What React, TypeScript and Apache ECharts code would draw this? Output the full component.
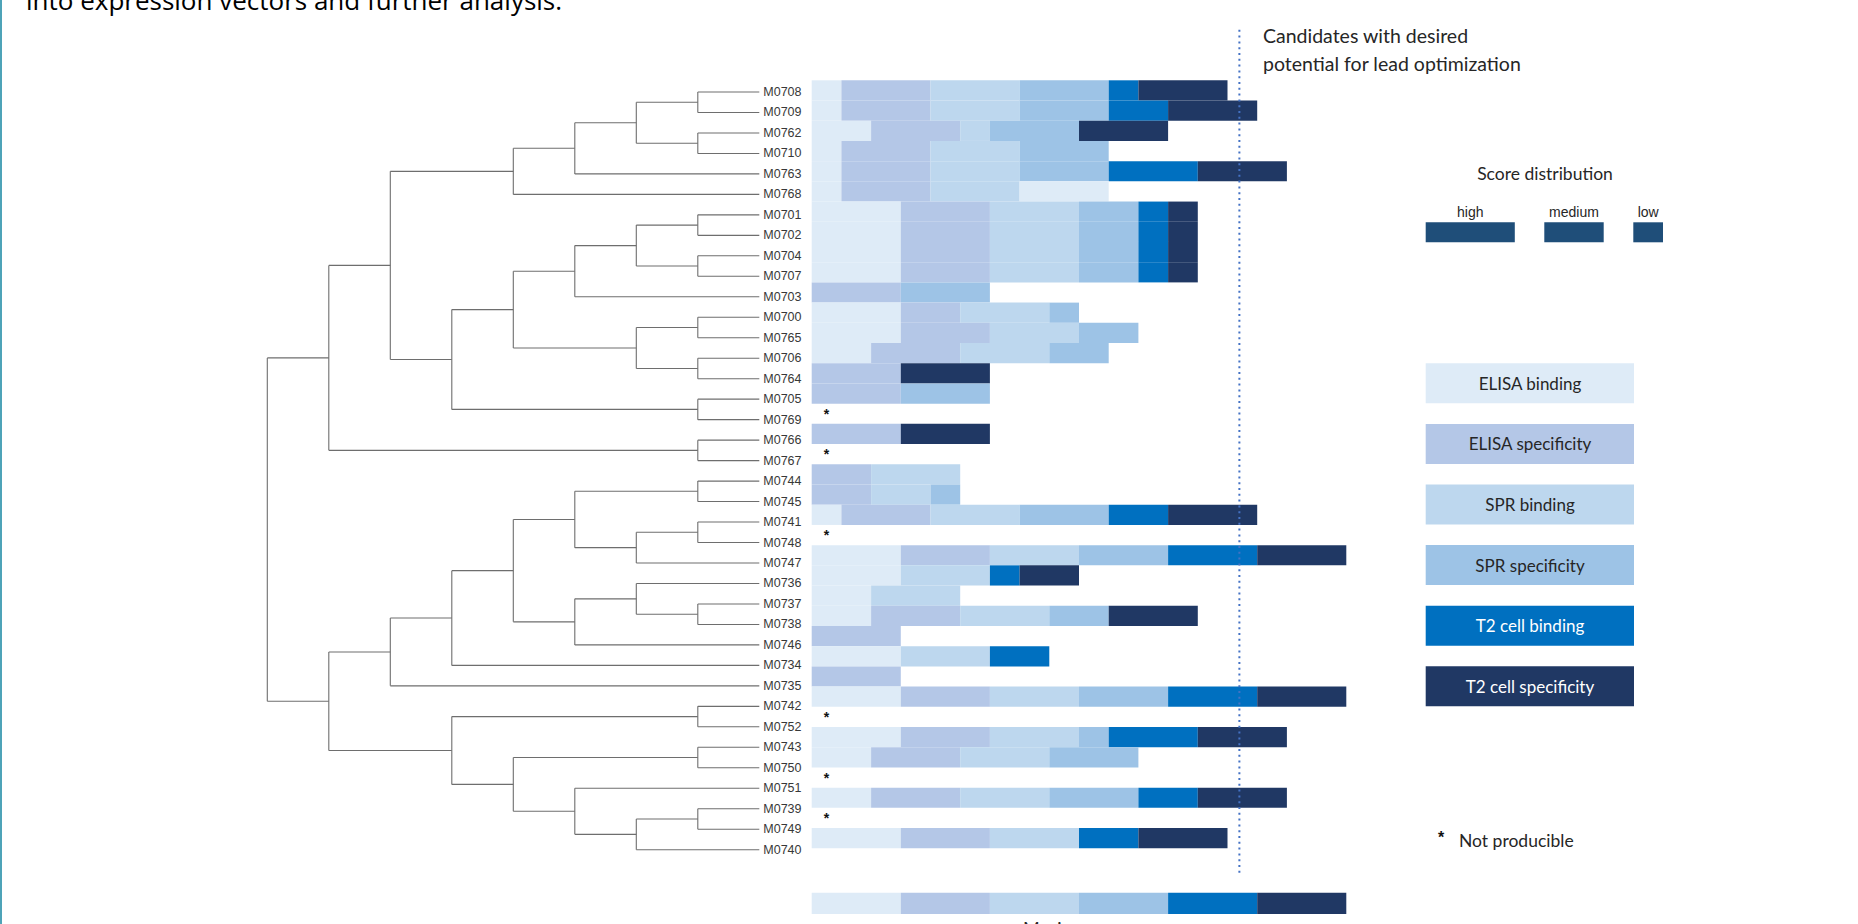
import { useEffect, useRef } from 'react';
import * as echarts from 'echarts';

// Clone names in dendrogram leaf order (top to bottom)
const clones = [
  'M0708', 'M0709', 'M0762', 'M0710', 'M0763', 'M0768', 'M0701', 'M0702', 'M0704', 'M0707',
  'M0703', 'M0700', 'M0765', 'M0706', 'M0764', 'M0705', 'M0769', 'M0766', 'M0767', 'M0744',
  'M0745', 'M0741', 'M0748', 'M0747', 'M0736', 'M0737', 'M0738', 'M0746', 'M0734', 'M0735',
  'M0742', 'M0752', 'M0743', 'M0750', 'M0751', 'M0739', 'M0749', 'M0740',
];

const assays = [
  'ELISA binding', 'ELISA specificity', 'SPR binding',
  'SPR specificity', 'T2 cell binding', 'T2 cell specificity',
];
const assayColors = ['#deebf7', '#b4c7e7', '#bdd7ee', '#9dc3e6', '#0070c0', '#203864'];
const assayTextColors = ['#262626', '#262626', '#262626', '#262626', '#ffffff', '#ffffff'];

// Score profile per bar row: [assay index, score 1..3]; null = not producible
const profiles: (number[][] | null)[] = [
  [[0, 1], [1, 3], [2, 3], [3, 3], [4, 1], [5, 3]],
  [[0, 1], [1, 3], [2, 3], [3, 3], [4, 2], [5, 3]],
  [[0, 2], [1, 3], [2, 1], [3, 3], [5, 3]],
  [[0, 1], [1, 3], [2, 3], [3, 3]],
  [[0, 1], [1, 3], [2, 3], [3, 3], [4, 3], [5, 3]],
  [[0, 1], [1, 3], [2, 3], [0, 3]],
  [[0, 3], [1, 3], [2, 3], [3, 2], [4, 1], [5, 1]],
  [[0, 3], [1, 3], [2, 3], [3, 2], [4, 1], [5, 1]],
  [[0, 3], [1, 3], [2, 3], [3, 2], [4, 1], [5, 1]],
  [[0, 3], [1, 3], [2, 3], [3, 2], [4, 1], [5, 1]],
  [[1, 3], [3, 3]],
  [[0, 3], [1, 2], [2, 3], [3, 1]],
  [[0, 3], [1, 3], [2, 3], [3, 2]],
  [[0, 2], [1, 3], [2, 3], [3, 2]],
  [[1, 3], [5, 3]],
  [[1, 3], [3, 3]],
  null,
  [[1, 3], [5, 3]],
  null,
  [[1, 2], [2, 3]],
  [[1, 2], [2, 2], [3, 1]],
  [[0, 1], [1, 3], [2, 3], [3, 3], [4, 2], [5, 3]],
  null,
  [[0, 3], [1, 3], [2, 3], [3, 3], [4, 3], [5, 3]],
  [[0, 3], [2, 3], [4, 1], [5, 2]],
  [[0, 2], [2, 3]],
  [[0, 2], [1, 3], [2, 3], [3, 2], [5, 3]],
  [[1, 3]],
  [[0, 3], [2, 3], [4, 2]],
  [[1, 3]],
  [[0, 3], [1, 3], [2, 3], [3, 3], [4, 3], [5, 3]],
  null,
  [[0, 3], [1, 3], [2, 3], [3, 1], [4, 3], [5, 3]],
  [[0, 2], [1, 3], [2, 3], [3, 3]],
  null,
  [[0, 2], [1, 3], [2, 3], [3, 3], [4, 2], [5, 3]],
  null,
  [[0, 3], [1, 3], [2, 3], [4, 2], [5, 3]],
];

const maximumProfile = [[0, 3], [1, 3], [2, 3], [3, 3], [4, 3], [5, 3]];
const maximumScore = 18;
const leadThreshold = 14.4;

const scoreLevels = ['high', 'medium', 'low'];
const scoreLevelValues = [3, 2, 1];

// Hierarchical clustering: [merge level, left, right]; numbers are leaf indices
const dendrogram: any = [0,
  [1,
    [2,
      [4, [5, [6, [7, 0, 1], [7, 2, 3]], 4], 5],
      [3,
        [4,
          [5, [6, [7, 6, 7], [7, 8, 9]], 10],
          [6, [7, 11, 12], [7, 13, 14]],
        ],
        [7, 15, 16],
      ],
    ],
    [7, 17, 18],
  ],
  [1,
    [2,
      [3,
        [4,
          [5, [7, 19, 20], [6, [7, 21, 22], 23]],
          [5, [6, 24, [7, 25, 26]], 27],
        ],
        28,
      ],
      29,
    ],
    [3,
      [7, 30, 31],
      [4, [7, 32, 33], [5, 34, [6, [7, 35, 36], 37]]],
    ],
  ],
];
const leafLevel = 8;

// Layout (pixels)
const TREE_LEFT = 267.3;
const TREE_RIGHT = 759.3;
const LEAF_TOP = 92;
const LEAF_STEP = 20.478;
const BAR_LEFT = 811.7;
const UNIT = 29.7;
const BAR_TOP = 80.3;
const ROW_H = 20.21;

const SANS = 'Lato, "Open Sans", sans-serif';
const LABEL_FONT = '"Liberation Sans", Arial, sans-serif';

function buildTreeSegments(): number[][] {
  const segs: number[][] = [];
  const walk = (node: any): { x: number; y: number } => {
    if (typeof node === 'number') return { x: leafLevel, y: node };
    const [level, a, b] = node;
    const ca = walk(a);
    const cb = walk(b);
    segs.push([level, ca.y, level, cb.y]);
    segs.push([level, ca.y, ca.x, ca.y]);
    segs.push([level, cb.y, cb.x, cb.y]);
    return { x: level, y: (ca.y + cb.y) / 2 };
  };
  walk(dendrogram);
  return segs;
}

function buildBarRects(): number[][] {
  const rects: number[][] = [];
  profiles.forEach((p, row) => {
    if (!p) return;
    let acc = 0;
    p.forEach(([cat, v]) => {
      rects.push([acc, acc + v, row, row + 1, cat]);
      acc += v;
    });
  });
  let acc = 0;
  maximumProfile.forEach(([cat, v]) => {
    rects.push([acc, acc + v, 40.2, 41.25, cat]);
    acc += v;
  });
  return rects;
}

export default function App() {
  const ref = useRef<HTMLDivElement>(null);

  useEffect(() => {
    if (!ref.current) return;
    const chart = echarts.init(ref.current, undefined, { renderer: 'svg' });

    const treeSegs = buildTreeSegments();
    const barRects = buildBarRects();
    const starRows = profiles.map((p, i) => (p ? null : [0.5, i + 0.5])).filter(Boolean) as number[][];

    const graphic: any[] = [];
    // left page rule
    graphic.push({ type: 'rect', shape: { x: 0, y: 0, width: 2, height: 924 }, style: { fill: '#4ea3b8' } });
    graphic.push({
      type: 'text', x: 26, y: 0,
      style: { text: 'into expression vectors and further analysis.', font: '26px "Open Sans", sans-serif', fill: '#000', align: 'left', verticalAlign: 'middle' },
    });
    graphic.push({
      type: 'text', x: 1263, y: 35,
      style: { text: 'Candidates with desired', font: `19.5px ${SANS}`, fill: '#262626', align: 'left', verticalAlign: 'middle' },
    });
    graphic.push({
      type: 'text', x: 1263, y: 63,
      style: { text: 'potential for lead optimization', font: `19.5px ${SANS}`, fill: '#262626', align: 'left', verticalAlign: 'middle' },
    });
    graphic.push({
      type: 'text', x: 1545, y: 173,
      style: { text: 'Score distribution', font: `17.5px ${SANS}`, fill: '#262626', align: 'center', verticalAlign: 'middle' },
    });
    // score scale boxes
    const scaleX = [1425.7, 1544.3, 1633.3];
    scoreLevels.forEach((lvl, i) => {
      const w = scoreLevelValues[i] * UNIT;
      graphic.push({ type: 'rect', shape: { x: scaleX[i], y: 222.3, width: w, height: 20 }, style: { fill: '#1f4e79' } });
      graphic.push({
        type: 'text', x: scaleX[i] + w / 2, y: 212,
        style: { text: lvl, font: `14px ${LABEL_FONT}`, fill: '#262626', align: 'center', verticalAlign: 'middle' },
      });
    });
    // assay legend
    assays.forEach((name, i) => {
      const y = 363.3 + i * 60.6;
      graphic.push({ type: 'rect', shape: { x: 1425.7, y, width: 208.3, height: 40 }, style: { fill: assayColors[i] } });
      graphic.push({
        type: 'text', x: 1530, y: y + 20,
        style: { text: name, font: `17px ${SANS}`, fill: assayTextColors[i], align: 'center', verticalAlign: 'middle' },
      });
    });
    graphic.push({
      type: 'text', x: 1441, y: 837,
      style: { text: '*', font: `bold 16px ${LABEL_FONT}`, fill: '#111', align: 'center', verticalAlign: 'middle' },
    });
    graphic.push({
      type: 'text', x: 1459, y: 840,
      style: { text: 'Not producible', font: `17.5px ${SANS}`, fill: '#262626', align: 'left', verticalAlign: 'middle' },
    });
    graphic.push({
      type: 'text', x: 1023, y: 919,
      style: { text: 'Maximum', font: `18px ${SANS}`, fill: '#262626', align: 'left', verticalAlign: 'top' },
    });

    const option: any = {
      animation: false,
      backgroundColor: '#ffffff',
      grid: [
        {
          left: TREE_LEFT, top: LEAF_TOP - LEAF_STEP / 2, width: TREE_RIGHT - TREE_LEFT, height: LEAF_STEP * clones.length,
          containLabel: false, outerBoundsMode: 'none',
        },
        {
          left: BAR_LEFT, top: BAR_TOP, width: UNIT * maximumScore, height: ROW_H * clones.length,
          containLabel: false, outerBoundsMode: 'none',
        },
      ],
      xAxis: [
        { type: 'value', gridIndex: 0, min: 0, max: leafLevel, show: false },
        { type: 'value', gridIndex: 1, min: 0, max: maximumScore, show: false },
      ],
      yAxis: [
        { type: 'value', gridIndex: 0, min: -0.5, max: clones.length - 0.5, inverse: true, show: false },
        {
          type: 'category', gridIndex: 0, data: clones, inverse: true, position: 'right',
          axisLine: { show: false }, axisTick: { show: false }, splitLine: { show: false },
          axisLabel: { interval: 0, margin: 4, fontSize: 12.5, color: '#383838', fontFamily: LABEL_FONT },
        },
        { type: 'value', gridIndex: 1, min: 0, max: clones.length, inverse: true, show: false },
      ],
      series: [
        {
          type: 'custom', name: 'dendrogram', xAxisIndex: 0, yAxisIndex: 0, silent: true,
          encode: { x: [0, 2], y: [1, 3] },
          data: treeSegs,
          renderItem: (_p: any, api: any) => {
            const a = api.coord([api.value(0), api.value(1)]);
            const b = api.coord([api.value(2), api.value(3)]);
            return {
              type: 'line',
              shape: { x1: a[0], y1: a[1], x2: b[0], y2: b[1] },
              style: { stroke: '#6e6e6e', lineWidth: 1.1 },
            };
          },
        },
        {
          type: 'custom', name: 'scores', xAxisIndex: 1, yAxisIndex: 2, silent: true,
          encode: { x: [0, 1], y: [2, 3] },
          data: barRects,
          renderItem: (_p: any, api: any) => {
            const p1 = api.coord([api.value(0), api.value(2)]);
            const p2 = api.coord([api.value(1), api.value(3)]);
            return {
              type: 'rect',
              shape: { x: p1[0], y: p1[1], width: p2[0] - p1[0], height: p2[1] - p1[1] },
              style: { fill: assayColors[api.value(4)] },
            };
          },
        },
        {
          type: 'custom', name: 'not producible', xAxisIndex: 1, yAxisIndex: 2, silent: true,
          data: starRows,
          renderItem: (_p: any, api: any) => {
            const p = api.coord([api.value(0), api.value(1)]);
            return {
              type: 'text', x: p[0], y: p[1],
              style: { text: '*', font: `bold 14px ${LABEL_FONT}`, fill: '#111', align: 'center', verticalAlign: 'middle' },
            };
          },
        },
        {
          type: 'custom', name: 'lead threshold', xAxisIndex: 1, yAxisIndex: 2, silent: true,
          data: [[leadThreshold, -2.5, 39.3]],
          renderItem: (_p: any, api: any) => {
            const a = api.coord([api.value(0), api.value(1)]);
            const b = api.coord([api.value(0), api.value(2)]);
            return {
              type: 'line',
              shape: { x1: a[0], y1: a[1], x2: b[0], y2: b[1] },
              style: { stroke: '#4472c4', lineWidth: 2, lineDash: [2, 3.8] },
            };
          },
        },
      ],
      graphic,
    };

    chart.setOption(option);
    return () => chart.dispose();
  }, []);

  return (
    <div
      ref={ref}
      style={{ position: 'absolute', left: 0, top: 0, width: 1858, height: 924, background: '#fff' }}
    />
  );
}
